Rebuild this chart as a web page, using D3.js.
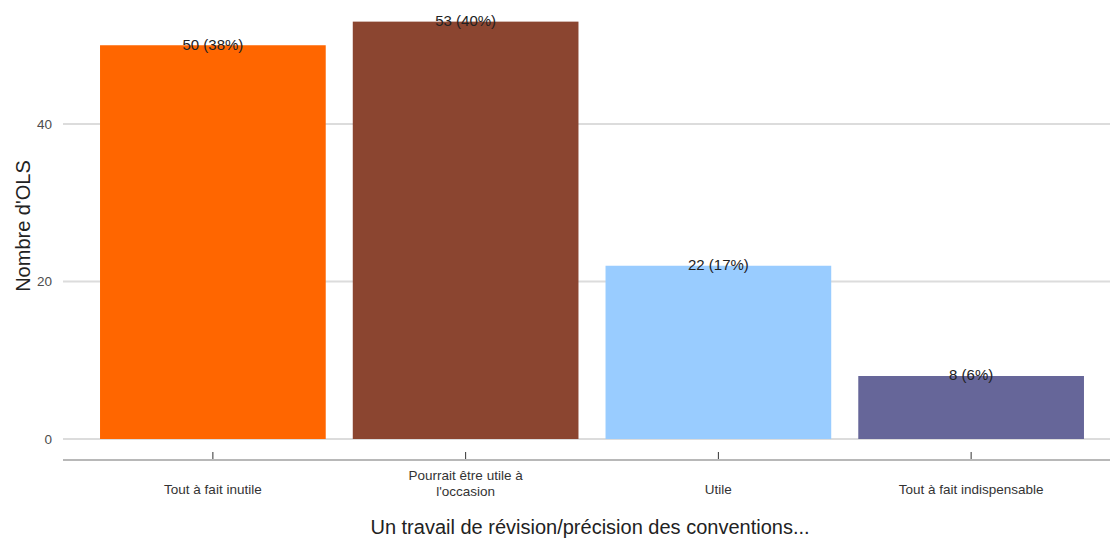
<!DOCTYPE html>
<html><head><meta charset="utf-8">
<script src="https://cdn.jsdelivr.net/npm/d3@7"></script>
<style>body{margin:0;background:#fff;}svg{display:block;font-family:"Liberation Sans",Arial,sans-serif;}</style>
</head><body>
<svg id="c" width="1110" height="542"></svg>
<script>
const categories = ["Tout à fait inutile", "Pourrait être utile à l'occasion", "Utile", "Tout à fait indispensable"];
const categoryLines = [["Tout à fait inutile"], ["Pourrait être utile à", "l'occasion"], ["Utile"], ["Tout à fait indispensable"]];
const counts = [50, 53, 22, 8];
const percents = ["38%", "40%", "17%", "6%"];
const colors = ["#FF6600", "#8B4530", "#99CCFF", "#666699"];
const yTicks = [0, 20, 40];

const svg = d3.select("#c");
const W = 1110;
const x = d3.scaleBand().domain(categories).range([86.5, 1097.5]).paddingInner(0.107).paddingOuter(0.0535);
const y = d3.scaleLinear().domain([0, 40]).range([439, 124]);

// gridlines
svg.append("g").selectAll("line").data(yTicks).join("line")
  .attr("x1", 63).attr("x2", W).attr("y1", d => y(d)).attr("y2", d => y(d))
  .attr("stroke", "#dcdcdc").attr("stroke-width", 2);

// y tick labels
svg.append("g").selectAll("text").data(yTicks).join("text")
  .attr("x", 52).attr("y", d => y(d)).attr("dy", "0.35em").attr("text-anchor", "end")
  .attr("font-size", 13.5).attr("fill", "#4d4d4d").text(d => d);

// bars
svg.append("g").selectAll("rect").data(categories).join("rect")
  .attr("x", d => x(d)).attr("width", x.bandwidth())
  .attr("y", (d, i) => y(counts[i])).attr("height", (d, i) => y(0) - y(counts[i]))
  .attr("fill", (d, i) => colors[i]);

// bar labels
svg.append("g").selectAll("text").data(categories).join("text")
  .attr("x", d => x(d) + x.bandwidth() / 2).attr("y", (d, i) => y(counts[i]) - 1).attr("dy", "0.35em")
  .attr("text-anchor", "middle").attr("font-size", 15).attr("fill", "#222")
  .text((d, i) => `${counts[i]} (${percents[i]})`);

// x axis line
svg.append("line").attr("x1", 63).attr("x2", W).attr("y1", 460).attr("y2", 460)
  .attr("stroke", "#b8b8b8").attr("stroke-width", 2);

// x ticks
svg.append("g").selectAll("line").data(categories).join("line")
  .attr("x1", d => x(d) + x.bandwidth() / 2).attr("x2", d => x(d) + x.bandwidth() / 2)
  .attr("y1", 452).attr("y2", 459).attr("stroke", "#333").attr("stroke-width", 1);

// x tick labels
const xl = svg.append("g").selectAll("text").data(categories).join("text")
  .attr("text-anchor", "middle").attr("font-size", 13.5).attr("fill", "#333")
  .attr("x", d => x(d) + x.bandwidth() / 2)
  .attr("y", (d, i) => categoryLines[i].length > 1 ? 480 : 494);
xl.each(function(d, i) {
  const t = d3.select(this);
  categoryLines[i].forEach((ln, j) => {
    t.append("tspan").attr("x", x(d) + x.bandwidth() / 2).attr("dy", j === 0 ? 0 : 16).text(ln);
  });
});

// axis titles
svg.append("text").attr("x", 590).attr("y", 534).attr("text-anchor", "middle")
  .attr("font-size", 20).attr("fill", "#222").text("Un travail de révision/précision des conventions...");
svg.append("text").attr("transform", "translate(30,226) rotate(-90)").attr("text-anchor", "middle")
  .attr("font-size", 20).attr("fill", "#222").text("Nombre d'OLS");
</script>
</body></html>
